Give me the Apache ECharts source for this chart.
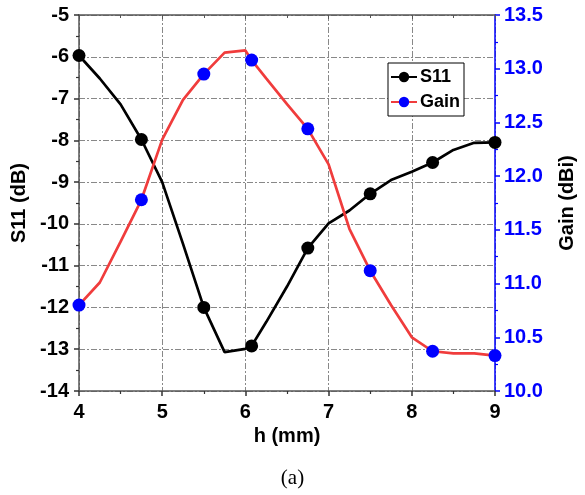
<!DOCTYPE html>
<html>
<head>
<meta charset="utf-8">
<script src="https://cdn.jsdelivr.net/npm/echarts@6/dist/echarts.min.js"></script>
<style>
html,body{margin:0;padding:0;background:#fff;}
#c{width:585px;height:495px;}
</style>
</head>
<body>
<div id="c"></div>
<script>
// h (mm) sample points
const h = [4, 4.25, 4.5, 4.75, 5, 5.25, 5.5, 5.75, 6, 6.075, 6.25, 6.5, 6.75, 7, 7.25, 7.5, 7.75, 8, 8.25, 8.5, 8.75, 9];
// S11 (dB)
const s11 = [-5.97, -6.52, -7.14, -7.98, -9.0, -10.48, -12.0, -13.07, -12.99, -12.92, -12.35, -11.5, -10.58, -9.99, -9.68, -9.28, -8.95, -8.75, -8.53, -8.23, -8.06, -8.05];
// Gain (dBi)
const gain = [10.80, 11.01, 11.39, 11.78, 12.34, 12.71, 12.95, 13.15, 13.17, 13.08, 12.91, 12.67, 12.44, 12.11, 11.51, 11.12, 10.80, 10.50, 10.37, 10.35, 10.35, 10.33];
// indices of points that carry a marker
const markerIdx = [0, 3, 6, 9, 12, 15, 18, 21];

const FONT = '"Liberation Sans", Arial, sans-serif';
const grid = {left: 79, right: 79, top: 15, bottom: 104};
const dashDot = [6, 2, 2, 2];

function build(vals) {
  return h.map((x, i) => ({
    value: [x, vals[i]],
    symbol: markerIdx.indexOf(i) >= 0 ? 'circle' : 'none'
  }));
}

const chart = echarts.init(document.getElementById('c'), null, {renderer: 'canvas'});
chart.setOption({
  animation: false,
  backgroundColor: '#fff',
  title: {
    text: '(a)', left: 'center', top: 463,
    textStyle: {fontFamily: '"Liberation Serif", "Times New Roman", serif', fontSize: 21, fontWeight: 'normal', color: '#000'}
  },
  grid: grid,
  legend: {
    orient: 'vertical', left: 388, top: 63,
    backgroundColor: '#fff', borderColor: '#000', borderWidth: 1,
    padding: [5, 4, 5, 2], itemGap: 7, itemWidth: 26, itemHeight: 13,
    textStyle: {fontFamily: FONT, fontSize: 18, fontWeight: 'bold', color: '#000', padding: [0, 0, 0, -2]},
    data: ['S11', 'Gain']
  },
  xAxis: [{
    type: 'value', min: 4, max: 9, interval: 1, position: 'bottom',
    name: 'h (mm)', nameLocation: 'middle', nameGap: 35,
    nameTextStyle: {fontFamily: FONT, fontSize: 20, fontWeight: 'bold', color: '#000'},
    axisLine: {lineStyle: {color: '#555', width: 1.5}},
    axisTick: {inside: false, length: 5, lineStyle: {color: '#333', width: 1.5}},
    minorTick: {show: true, splitNumber: 2, length: 3, lineStyle: {color: '#333', width: 1.2}},
    axisLabel: {fontFamily: FONT, fontSize: 20, fontWeight: 'bold', color: '#000', margin: 11},
    splitLine: {show: true, lineStyle: {color: '#888', width: 1, type: dashDot}}
  }, {
    type: 'value', min: 4, max: 9, interval: 1, position: 'top',
    axisLine: {show: true, lineStyle: {color: '#555', width: 1.5}},
    axisTick: {show: true, inside: true, length: 4, lineStyle: {color: '#555'}},
    minorTick: {show: true, splitNumber: 2, length: 3, lineStyle: {color: '#555'}},
    axisLabel: {show: false}, splitLine: {show: false}
  }],
  yAxis: [{
    type: 'value', min: -14, max: -5, interval: 1, position: 'left',
    name: 'S11 (dB)', nameLocation: 'middle', nameGap: 50, nameRotate: 90,
    nameTextStyle: {fontFamily: FONT, fontSize: 20, fontWeight: 'bold', color: '#000'},
    axisLine: {show: true, lineStyle: {color: '#555', width: 1.5}},
    axisTick: {show: true, inside: false, length: 5, lineStyle: {color: '#333', width: 1.5}},
    minorTick: {show: true, splitNumber: 2, length: 3, lineStyle: {color: '#333', width: 1.2}},
    axisLabel: {fontFamily: FONT, fontSize: 20, fontWeight: 'bold', color: '#000', margin: 10},
    splitLine: {show: true, lineStyle: {color: '#888', width: 1, type: dashDot}}
  }, {
    type: 'value', min: 10, max: 13.5, interval: 0.5, position: 'right',
    name: 'Gain (dBi)', nameLocation: 'middle', nameGap: 62, nameRotate: 90,
    nameTextStyle: {fontFamily: FONT, fontSize: 20, fontWeight: 'bold', color: '#000'},
    axisLine: {show: true, lineStyle: {color: '#0000ff', width: 1.5}},
    axisTick: {show: true, inside: false, length: 5, lineStyle: {color: '#0000ff', width: 1.5}},
    minorTick: {show: true, splitNumber: 2, length: 3, lineStyle: {color: '#0000ff', width: 1.2}},
    axisLabel: {fontFamily: FONT, fontSize: 20, fontWeight: 'bold', color: '#0000ff', margin: 9,
      formatter: v => v.toFixed(1)},
    splitLine: {show: false}
  }],
  series: [{
    name: 'S11', type: 'line', xAxisIndex: 0, yAxisIndex: 0,
    symbol: 'circle', symbolSize: 13,
    lineStyle: {color: '#000', width: 2.7},
    itemStyle: {color: '#000'},
    clip: true,
    data: build(s11), z: 3
  }, {
    name: 'Gain', type: 'line', xAxisIndex: 0, yAxisIndex: 1,
    symbol: 'circle', symbolSize: 13,
    lineStyle: {color: '#f03c3c', width: 2.7},
    itemStyle: {color: '#0000ff'},
    clip: true,
    data: build(gain), z: 4
  }]
});
</script>
</body>
</html>
